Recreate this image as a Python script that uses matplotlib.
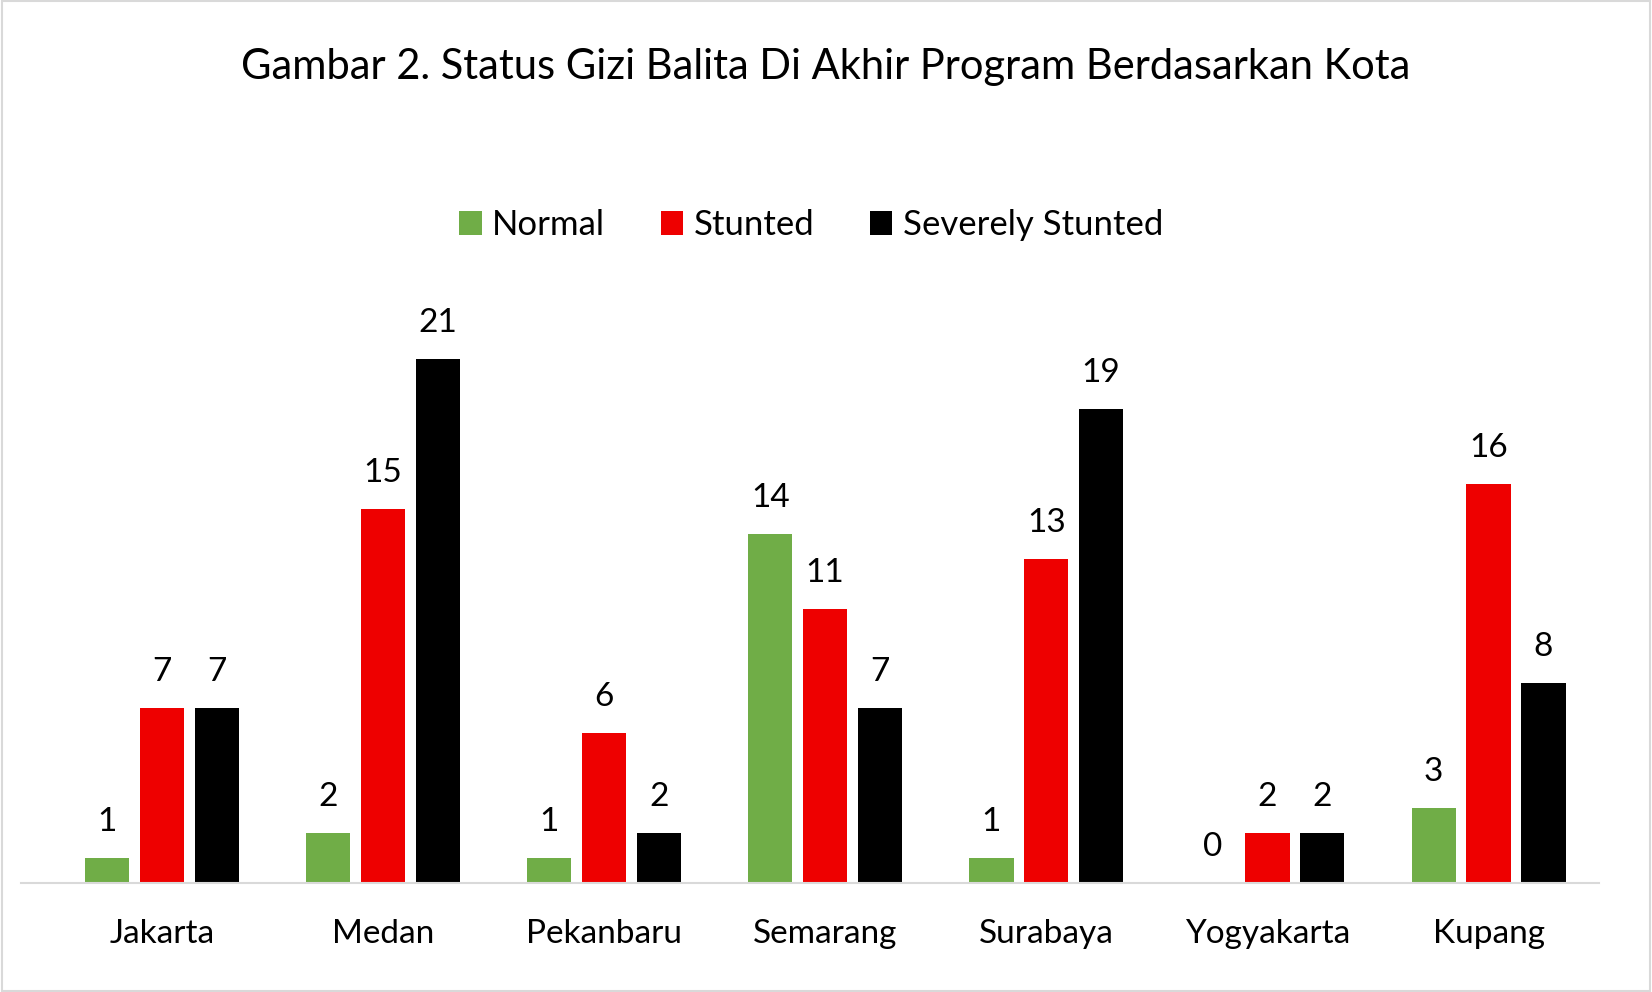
import matplotlib
matplotlib.use("Agg")
import matplotlib.pyplot as plt
import numpy as np

plt.rcParams['font.family'] = ['Lato', 'DejaVu Sans']

cities = ["Jakarta", "Medan", "Pekanbaru", "Semarang", "Surabaya", "Yogyakarta", "Kupang"]
normal = [1, 2, 1, 14, 1, 0, 3]
stunted = [7, 15, 6, 11, 13, 2, 16]
severe = [7, 21, 2, 7, 19, 2, 8]
series = [("Normal", normal, "#70AD47"), ("Stunted", stunted, "#EE0000"), ("Severely Stunted", severe, "#000000")]

fig = plt.figure(figsize=(16.52, 9.92), dpi=100)
ax = fig.add_axes([0.031, 0.110, 0.937, 0.603])
x = np.arange(len(cities))
w = 0.2
step = 0.248
for i, (name, vals, col) in enumerate(series):
    pos = x + (i - 1) * step
    ax.bar(pos, vals, width=w, color=col, label=name)
    for p, v in zip(pos, vals):
        ax.text(p, v + 0.85, str(v), ha='center', va='bottom', fontsize=24)

ax.set_xlim(-0.5, len(cities) - 0.5)
ax.set_ylim(0, 24)
ax.set_xticks(x)
ax.set_xticklabels(cities, fontsize=24)
ax.tick_params(axis='x', length=0, pad=26)
ax.set_yticks([])
for s in ['top', 'right', 'left']:
    ax.spines[s].set_visible(False)
ax.spines['bottom'].set_visible(False)
ax.plot([-0.635, 6.5], [0, 0], color='#D9D9D9', lw=1.5, clip_on=False)

fig.text(0.5, 0.932, "Gambar 2. Status Gizi Balita Di Akhir Program Berdasarkan Kota", ha='center', va='center', fontsize=30)
fig.legend(loc='center', bbox_to_anchor=(0.491, 0.773), ncol=3, frameon=False, fontsize=25,
           handlelength=0.65, handleheight=0.65, handletextpad=0.3, columnspacing=1.6)

fig.patches.append(plt.Rectangle((0.001, 0.001), 0.998, 0.998, transform=fig.transFigure,
                                 fill=False, edgecolor='#D9D9D9', linewidth=1.5))
fig.savefig("out.png", dpi=100)
